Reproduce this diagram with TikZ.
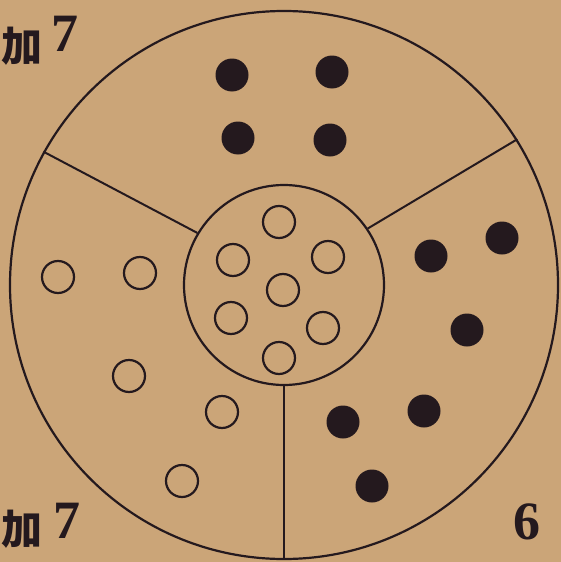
\documentclass[tikz,border=0pt]{standalone}
\usepackage{fontspec}
\newfontfamily\cjk{Noto Sans CJK SC}
\setmainfont{Liberation Serif}
\definecolor{paper}{RGB}{203,165,120}
\definecolor{ink}{RGB}{36,25,30}
\tikzset{
  ring/.style={draw=ink, line width=2.2pt, circle, inner sep=0pt},
  opencirc/.style={draw=ink, line width=2.2pt, circle, inner sep=0pt, minimum size=32pt},
  dotc/.style={fill=ink, circle, inner sep=0pt, minimum size=33pt},
  divider/.style={draw=ink, line width=2pt},
  lbl/.style={text=ink, inner sep=0pt, font=\bfseries\fontsize{54}{54}\selectfont},
  cjklbl/.style={text=ink, inner sep=0pt, font=\cjk\bfseries\fontsize{41}{41}\selectfont}
}
\begin{document}
\begin{tikzpicture}[x=1pt,y=-1pt]
\useasboundingbox (0,0) rectangle (561,562);
\fill[paper] (0,0) rectangle (561,562);
% rings
\node[ring, minimum size=548pt] (outer) at (284,285) {};
\node[ring, minimum size=200pt] (inner) at (284,285) {};
% dividers
\draw[divider] (inner.149.5) -- (outer.151);
\draw[divider] (inner.34.5) -- (outer.32);
\draw[divider] (inner.270) -- (outer.270);
% inner open circles
\node[opencirc] (c1) at (279,222) {};
\node[opencirc] (c2) at (233,260) {};
\node[opencirc] (c3) at (328,257) {};
\node[opencirc] (c4) at (283,290) {};
\node[opencirc] (c5) at (231,318) {};
\node[opencirc] (c6) at (323,328) {};
\node[opencirc] (c7) at (279,358) {};
% left sector open circles
\node[opencirc] (l1) at (58,277) {};
\node[opencirc] (l2) at (140,273) {};
\node[opencirc] (l3) at (129,376) {};
\node[opencirc] (l4) at (222,412) {};
\node[opencirc] (l5) at (182,481) {};
% top sector dots
\node[dotc] (t1) at (232,75) {};
\node[dotc] (t2) at (332,72) {};
\node[dotc] (t3) at (238,138) {};
\node[dotc] (t4) at (330,140) {};
% right sector dots
\node[dotc] (r1) at (431,256) {};
\node[dotc] (r2) at (502,238) {};
\node[dotc] (r3) at (467,330) {};
% bottom-right sector dots
\node[dotc] (b1) at (343,422) {};
\node[dotc] (b2) at (424,411) {};
\node[dotc] (b3) at (372,486) {};
% labels
\node[cjklbl] (k1) at (22,46) {加};
\node[lbl] (n1) at (65,34) {7};
\node[cjklbl] (k2) at (22,529) {加};
\node[lbl] (n2) at (67,521) {7};
\node[lbl] (n3) at (527,522) {6};
\end{tikzpicture}
\end{document}
